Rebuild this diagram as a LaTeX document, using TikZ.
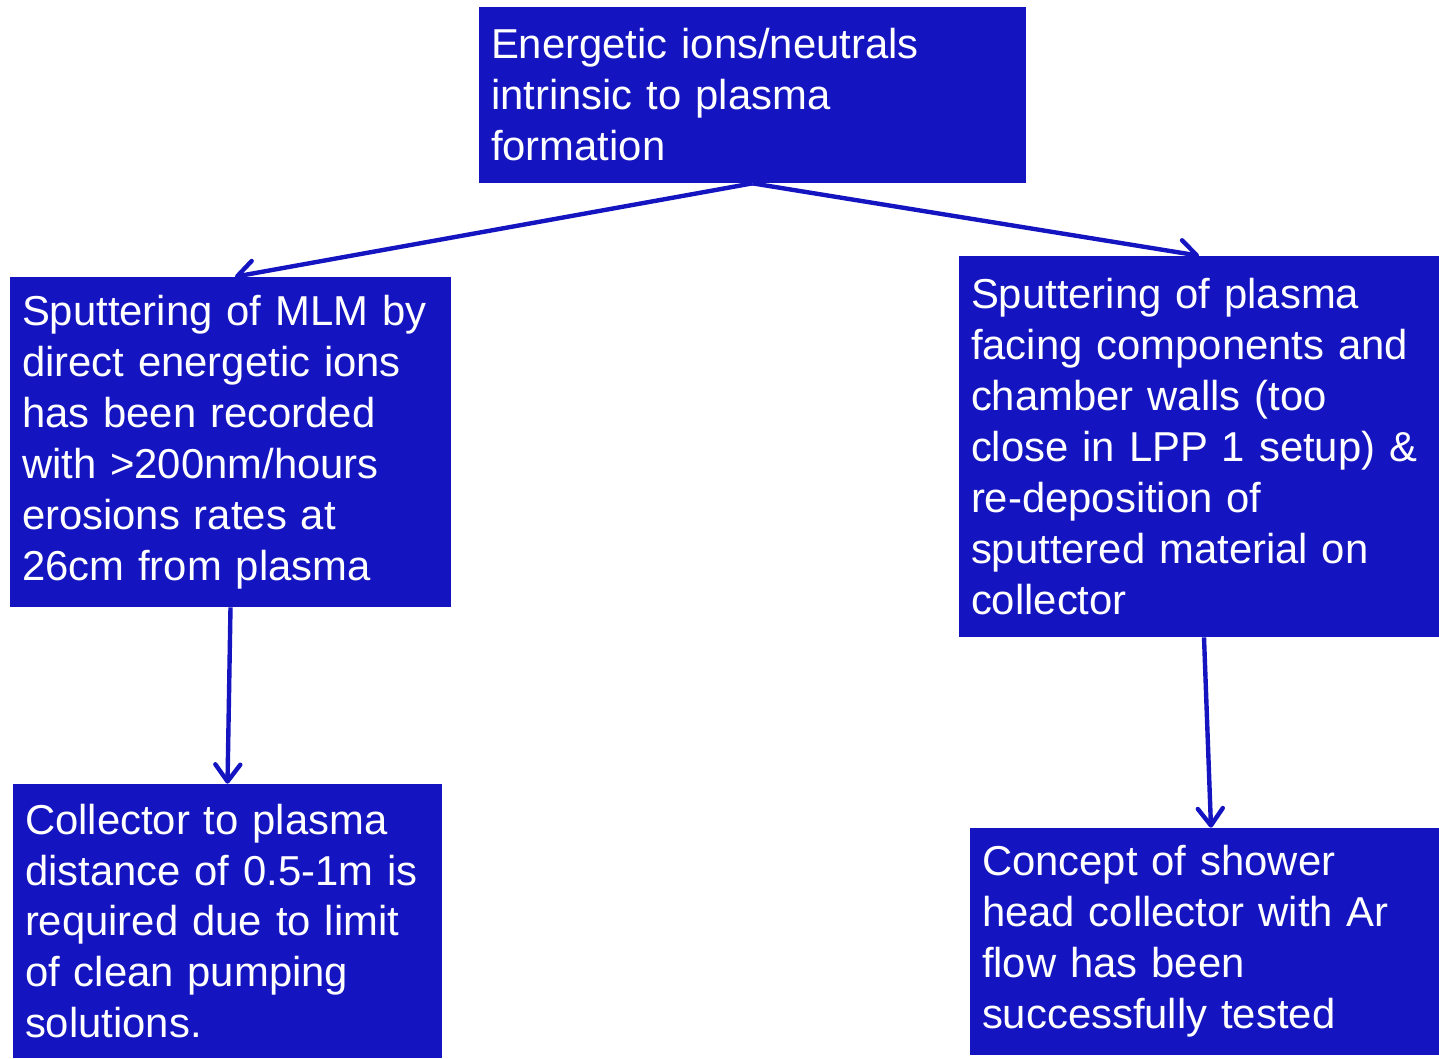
\documentclass[tikz,border=0pt]{standalone}
\usepackage{fontspec}
\setmainfont{Liberation Sans}
\usepackage{tikz}
\usetikzlibrary{arrows.meta, calc}

\definecolor{boxblau}{RGB}{20,20,192}

\begin{document}
\begin{tikzpicture}[
            x=0.02cm, y=-0.02cm,
            kasten/.style={
                    draw=none,
                    rectangle,
                    fill=boxblau,
                    text=white,
                    align=left,
                    inner xsep=0.24cm,
                    inner ysep=0pt,
                    font=\fontsize{23.8}{29}\selectfont
                },
            pfeil/.style={
                    draw,
                    -{Straight Barb[length=0.34cm, width=0.5cm, line width=2.5pt, round]},
                    line width=2.5pt,
                    color=boxblau
                }
        ]

        \useasboundingbox (0,0) rectangle (1439,1058);

        \node[kasten, minimum width=10.94cm, minimum height=3.52cm, text width=10.46cm] (ions) at (752.5,95)
            {Energetic ions/neutrals\\intrinsic to plasma\\formation};
        \node[kasten, minimum width=8.82cm, minimum height=6.6cm, text width=8.34cm] (mlm) at (230.5,442)
            {Sputtering of MLM by\\direct energetic ions\\has been recorded\\with >200nm/hours\\erosions rates at\\26cm from plasma};
        \node[kasten, minimum width=9.6cm, minimum height=7.62cm, text width=9.12cm] (walls) at (1199,446.5)
            {Sputtering of plasma\\facing components and\\chamber walls (too\\close in LPP 1 setup) \&\\re-deposition of\\sputtered material on\\collector};
        \node[kasten, minimum width=8.58cm, minimum height=5.48cm, text width=8.1cm] (distance) at (227.5,921)
            {Collector to plasma\\distance of 0.5-1m is\\required due to limit\\of clean pumping\\solutions.};
        \node[kasten, minimum width=9.38cm, minimum height=4.54cm, text width=8.9cm] (shower) at (1204.5,941.5)
            {Concept of shower\\head collector with Ar\\flow has been\\successfully tested};

        \draw[pfeil] (ions.south) -- ([xshift=0.09cm]mlm.north);
        \draw[pfeil] (ions.south) -- (walls.north);
        \draw[pfeil] (mlm.south) -- (distance.north);
        \draw[pfeil] ([xshift=0.1cm]walls.south) -- ([xshift=0.13cm]shower.north);

    \end{tikzpicture}
\end{document}
